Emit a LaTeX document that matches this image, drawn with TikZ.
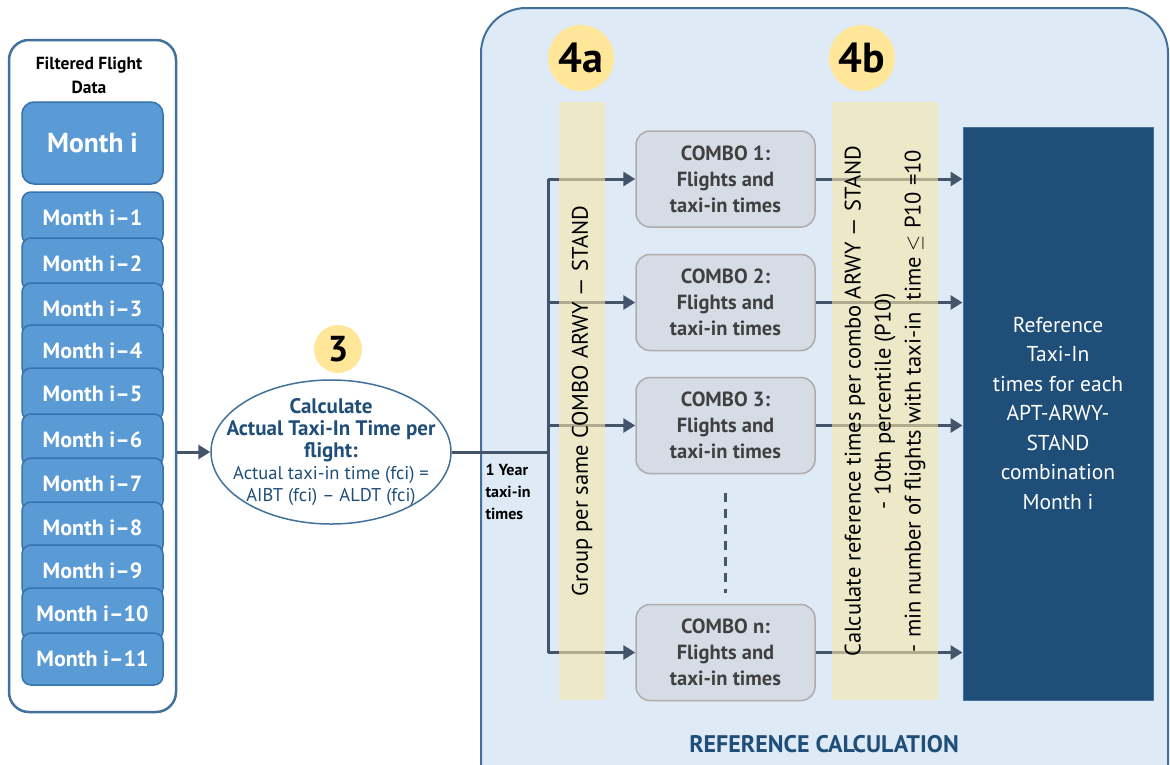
\documentclass[tikz,border=0pt]{standalone}
\usepackage{fontspec}
\setmainfont{PT Sans}
\usetikzlibrary{positioning,shapes.geometric,arrows.meta}
\definecolor{frameblue}{HTML}{41719C}
\definecolor{monthfill}{HTML}{5B9BD5}
\definecolor{monthedge}{HTML}{3572AE}
\definecolor{calcblue}{HTML}{DEEBF7}
\definecolor{navy}{HTML}{1F4E79}
\definecolor{badgeyellow}{HTML}{FFE699}
\definecolor{stripbeige}{HTML}{F8E6A9}
\definecolor{combofill}{HTML}{D6DCE5}
\definecolor{comboedge}{HTML}{AFABAB}
\definecolor{combotext}{HTML}{404040}
\definecolor{slate}{HTML}{44546A}
\newcommand\fs[2]{\fontsize{#1}{#2}\selectfont}
\tikzset{
  monthbox/.style={draw=monthedge, fill=monthfill, line width=1.5pt, rounded corners=9pt,
    minimum width=141, minimum height=52, inner sep=0, text=white, font=\fs{22}{26}\bfseries},
  badge/.style={circle, fill=badgeyellow, inner sep=0, font=\fs{36}{36}\bfseries},
  combo/.style={draw=comboedge, fill=combofill, line width=1.5pt, rounded corners=14pt,
    minimum width=179, minimum height=96, inner sep=0, align=center, text=combotext,
    font=\fs{20.5}{26}\bfseries},
  strip/.style={fill=stripbeige, fill opacity=.6, text opacity=1, rotate=90, inner sep=0,
    minimum width=598, align=center, font=\fs{22.5}{30}},
  conn/.style={draw=slate, line width=3pt},
  arr/.style={conn, ->},
}
\begin{document}
\begin{tikzpicture}[x=1pt, y=-1pt, line join=round, >={Triangle[length=12pt,width=14pt]}]
\useasboundingbox (0,0) rectangle (1170,764);
\clip (0,0) rectangle (1170,764);
\draw[frameblue, fill=calcblue, line width=2pt, rounded corners=45pt] (481,8) rectangle (1168,820);
\node[navy, font=\fs{24}{28}\bfseries] (refcalc) at (824,744) {REFERENCE CALCULATION};
% filtered data
\node[draw=frameblue, fill=white, line width=2.5pt, rounded corners=20pt, minimum width=167, minimum height=672] (filt) at (92.5,376) {};
\node[align=center, font=\fs{17.5}{24}\bfseries] (ftitle) at (89,75) {Filtered Flight\\Data};
\node[monthbox, minimum height=82, rounded corners=12pt, font=\fs{27.5}{30}\bfseries] (m0) at (92.5,143) {Month i};
\foreach \k/\yy in {1/218,2/264,3/309,4/351,5/394,6/440,7/484,8/528,9/571,10/614,11/659}
  \node[monthbox] (m\k) at (92.5,\yy) {Month i--\k};
% step 3
\node[badge, minimum size=48] (b3) at (338,349) {3};
\node[ellipse, draw=frameblue, fill=white, line width=1.5pt, minimum width=240, minimum height=144] (calc) at (331,452) {};
\node[text=navy, align=center, font=\fs{21}{22}\bfseries] (calctext) at (calc.center)
  {Calculate\\Actual Taxi-In Time per\\flight:\\{\fs{18.5}{22}\mdseries Actual taxi-in time (fci) =}\\{\fs{18.5}{22}\mdseries AIBT (fci) -- ALDT (fci)}};
\draw[arr] (calc.west -| filt.east) -- (calc.west);
\node[anchor=west, align=left, font=\fs{16}{22}\bfseries] (year) at (482,492) {1 Year\\taxi-in\\times};
% step 4
\node[badge, minimum size=66, font=\fs{42}{42}\bfseries] (b4a) at (581,58) {4a};
\node[badge, minimum size=66, font=\fs{42}{42}\bfseries] (b4b) at (862,58) {4b};
\node[combo] (c1) at (725.5,179) {COMBO 1:\\Flights and\\taxi-in times};
\node[combo] (c2) at (725.5,302.5) {COMBO 2:\\Flights and\\taxi-in times};
\node[combo] (c3) at (725.5,425.5) {COMBO 3:\\Flights and\\taxi-in times};
\node[combo] (cn) at (725.5,652.5) {COMBO n:\\Flights and\\taxi-in times};
\draw[slate, line width=2.5pt, dash pattern=on 9pt off 7pt] ([yshift=-19pt]c3.south) -- ([yshift=11pt]cn.north);
\node[draw=frameblue, fill=navy, line width=1pt, minimum width=190, minimum height=573, inner sep=0,
  align=center, text=white, font=\fs{21.5}{29.5}] (ref) at (1058,413.5)
  {Reference\\Taxi-In\\times for each\\APT-ARWY-\\STAND\\combination\\Month i};
\coordinate (split) at (548,452);
\draw[conn] (calc.east) -- (split);
\draw[conn] (split |- c1) -- (split |- cn);
\foreach \c in {c1,c2,c3,cn} {
  \draw[arr] (split |- \c) -- (\c.west);
  \draw[arr] (\c.east) -- (\c.east -| ref.west);
}
\node[strip, minimum height=46] (s4a) at (582,401) {Group per same COMBO ARWY --- STAND};
\node[strip, minimum height=106] (s4b) at (885,401)
  {Calculate reference times per combo ARWY --- STAND\\- 10th percentile (P10)\\- min number of flights with taxi-in \ time $\leq$ P10 =10};
\end{tikzpicture}
\end{document}
